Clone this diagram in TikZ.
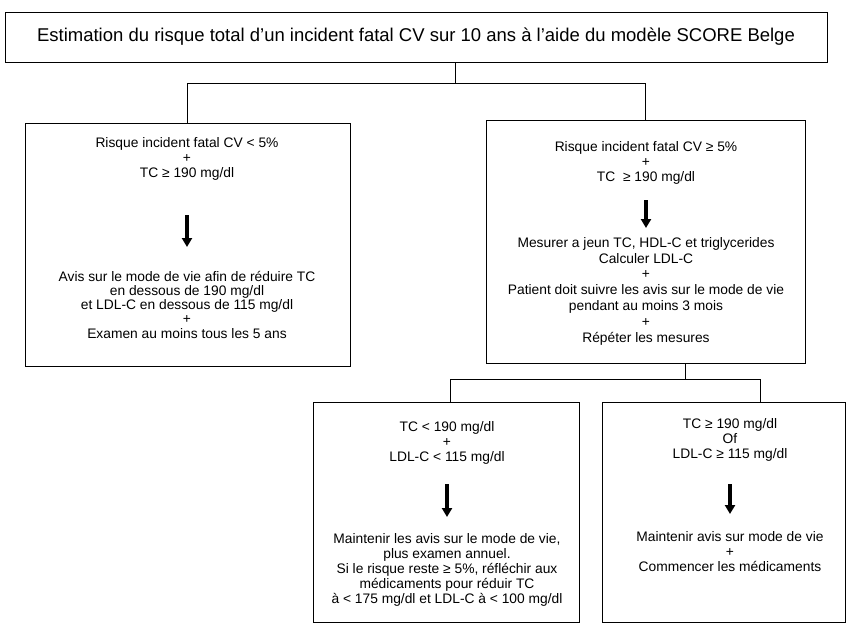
\documentclass[tikz,border=0pt]{standalone}
\usepackage{fontspec}
\setmainfont{Liberation Sans}
\usetikzlibrary{arrows.meta}

\begin{document}
\begin{tikzpicture}[
    x=1pt, y=-1pt,
    box/.style={draw, line width=0.9pt, inner sep=0pt},
    txt/.style={anchor=north, align=center, inner sep=0pt,
                font=\fontsize{13.8}{15}\selectfont},
    link/.style={draw, line width=0.9pt},
    fatarrow/.style={line width=3.5pt, -{Triangle[width=10pt,length=9pt]}}
  ]
  \useasboundingbox (0,0) rectangle (848,625);

  \node[box, minimum width=822pt, minimum height=50pt,
        font=\fontsize{18.5}{20}\selectfont] (title) at (416,37)
    {Estimation du risque total d’un incident fatal CV sur 10 ans à l’aide du modèle SCORE Belge};

  \node[box, minimum width=325pt, minimum height=243pt] (left) at (187.5,244.5) {};
  \node[box, minimum width=319pt, minimum height=243pt] (right) at (645.5,241.5) {};
  \node[box, minimum width=266pt, minimum height=220pt] (lowleft) at (446,512) {};
  \node[box, minimum width=243pt, minimum height=220pt] (lowright) at (723.5,512) {};

  \coordinate (split) at (455,83);
  \coordinate (splitlow) at (685,379);
  \coordinate (dropl) at (450,379);
  \coordinate (dropr) at (760,379);
  \draw[link] (split |- title.south) -- (split);
  \draw[link] (split) -| (left.north);
  \draw[link] (split) -| (right.north);
  \draw[link] (splitlow |- right.south) -- (splitlow);
  \draw[link] (dropl |- lowleft.north) -- (dropl) -- (dropr) -- (dropr |- lowright.north);

  \node[txt] (lefttop) at (187,137)
    {Risque incident fatal CV < 5\%\\+\\TC ≥ 190 mg/dl};
  \node[txt, font=\fontsize{13.8}{14.2}\selectfont] (leftbot) at (187,271)
    {Avis sur le mode de vie afin de réduire TC\\en dessous de 190 mg/dl\\
     et LDL-C en dessous de 115 mg/dl\\+\\Examen au moins tous les 5 ans};
  \draw[fatarrow, shorten <=35pt, shorten >=24pt] (lefttop.south) -- (leftbot.north);

  \node[txt] (righttop) at (646,141)
    {Risque incident fatal CV ≥ 5\%\\+\\TC~~≥ 190 mg/dl};
  \node[txt, font=\fontsize{13.8}{15.8}\selectfont] (rightbot) at (646,237)
    {Mesurer a jeun TC, HDL-C et triglycerides\\Calculer LDL-C\\+\\
     Patient doit suivre les avis sur le mode de vie\\pendant au moins 3 mois\\+\\
     Répéter les mesures};
  \draw[fatarrow, shorten <=16pt, shorten >=9pt] (righttop.south) -- (rightbot.north);

  \node[txt] (lowlefttop) at (447,421)
    {TC < 190 mg/dl\\+\\LDL-C < 115 mg/dl};
  \node[txt] (lowleftbot) at (447,533)
    {Maintenir les avis sur le mode de vie,\\plus examen annuel.\\
     Si le risque reste ≥ 5\%, réfléchir aux\\médicaments pour réduir TC\\
     à < 175 mg/dl et LDL-C à < 100 mg/dl};
  \draw[fatarrow, shorten <=20pt, shorten >=16pt] (lowlefttop.south) -- (lowleftbot.north);

  \node[txt] (lowrighttop) at (730,418)
    {TC ≥ 190 mg/dl\\Of\\LDL-C ≥ 115 mg/dl};
  \node[txt] (lowrightbot) at (730,531)
    {Maintenir avis sur mode de vie\\+\\Commencer les médicaments};
  \draw[fatarrow, shorten <=23pt, shorten >=17pt] (lowrighttop.south) -- (lowrightbot.north);
\end{tikzpicture}
\end{document}
